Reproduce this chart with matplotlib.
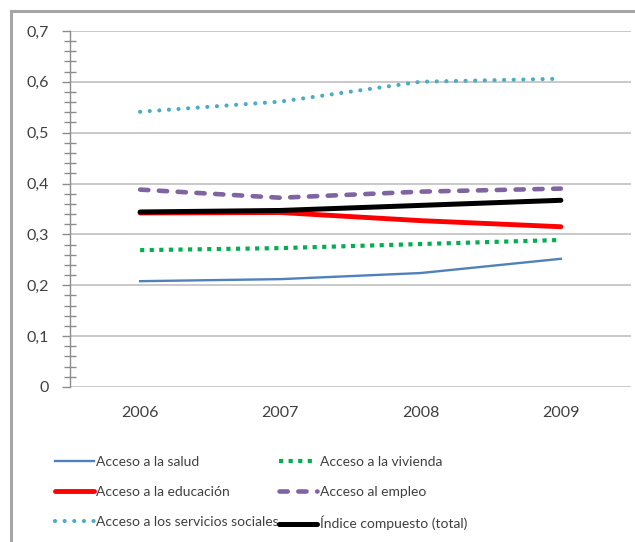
"""Indicadores de acceso 2006-2009: líneas por dimensión e índice compuesto."""

import matplotlib

matplotlib.use("Agg")
import matplotlib.pyplot as plt
from matplotlib.lines import Line2D
from matplotlib.ticker import FuncFormatter, MultipleLocator

years = ["2006", "2007", "2008", "2009"]

salud = [0.208, 0.212, 0.224, 0.252]
vivienda = [0.269, 0.273, 0.281, 0.289]
educacion = [0.342, 0.343, 0.327, 0.315]
empleo = [0.388, 0.372, 0.384, 0.390]
servicios = [0.541, 0.561, 0.600, 0.606]
total = [0.344, 0.347, 0.357, 0.367]

plt.rcParams["font.family"] = ["Lato", "DejaVu Sans"]

fig = plt.figure(figsize=(6.35, 5.42), dpi=100)
ax = fig.add_axes([0.1102, 0.286, 0.8835, 0.657])

x = range(len(years))

l_salud, = ax.plot(x, salud, color="#4F81BD", lw=1.7, label="Acceso a la salud")
l_viv, = ax.plot(x, vivienda, color="#00B050", lw=3.0,
                 linestyle=(0, (1.0, 1.3)), dash_capstyle="butt",
                 label="Acceso a la vivienda")
l_edu, = ax.plot(x, educacion, color="#FF0000", lw=3.5,
                 solid_capstyle="round", label="Acceso a la educación")
l_emp, = ax.plot(x, empleo, color="#8064A2", lw=3.3,
                 linestyle=(0, (1.8, 2.3)), dash_capstyle="round",
                 label="Acceso al empleo")
l_serv, = ax.plot(x, servicios, color="#4BACC6", lw=3.0,
                  linestyle=(0, (0.01, 2.3)), dash_capstyle="round",
                  label="Acceso a los servicios sociales")
l_tot, = ax.plot(x, total, color="black", lw=3.6,
                 solid_capstyle="round", label="Índice compuesto (total)")

ax.set_xlim(-0.5, len(years) - 0.5)
ax.set_ylim(0, 0.7)
ax.set_xticks(list(x))
ax.set_xticklabels(years)
ax.yaxis.set_major_locator(MultipleLocator(0.1))
ax.yaxis.set_minor_locator(MultipleLocator(0.02))
ax.yaxis.set_major_formatter(
    FuncFormatter(lambda v, _: "0" if abs(v) < 1e-9 else f"{v:.1f}".replace(".", ","))
)

ax.grid(axis="y", color="#C0C0C0", lw=1.2)
ax.set_axisbelow(True)
for side in ["top", "right", "bottom"]:
    ax.spines[side].set_visible(False)
ax.spines["left"].set_color("#8C8C8C")
ax.spines["left"].set_linewidth(1.0)

ax.tick_params(axis="x", length=0, pad=14, labelsize=11.5, labelcolor="#404040")
ax.tick_params(axis="y", which="major", length=6, width=1, color="#8C8C8C",
               direction="out", pad=9, labelsize=11.5, labelcolor="#404040")
ax.tick_params(axis="y", which="minor", length=8, width=1, color="#8C8C8C",
               direction="inout")

# legend is filled column by column, so order the handles accordingly
handles = [l_salud, l_edu, l_serv, l_viv, l_emp, l_tot]
fig.legend(handles=handles, labels=[h.get_label() for h in handles],
           ncol=2, loc="upper left", bbox_to_anchor=(0.0866, 0.159),
           frameon=False, fontsize=10, labelcolor="#404040",
           handlelength=2.8, handletextpad=0.15, columnspacing=0.0,
           labelspacing=1.3, borderpad=0, borderaxespad=0)

# outer chart frame (top and left edges)
frame_kw = dict(color="#A6A6A6", lw=2.2, transform=fig.transFigure)
fig.add_artist(Line2D([11 / 635, 1.0], [1 - 11 / 542, 1 - 11 / 542], **frame_kw))
fig.add_artist(Line2D([11 / 635, 11 / 635], [0.0, 1 - 11 / 542], **frame_kw))

fig.savefig("out.png", dpi=100)
